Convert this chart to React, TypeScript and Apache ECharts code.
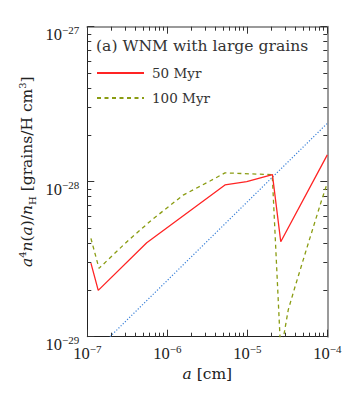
import React, { useEffect, useRef } from 'react';
import * as echarts from 'echarts';

// ---- data ----
// grain size a [cm]
const xMajor = [1e-7, 1e-6, 1e-5, 1e-4];
const xMinor = [
  2e-7, 3e-7, 4e-7, 5e-7, 6e-7, 7e-7, 8e-7, 9e-7,
  2e-6, 3e-6, 4e-6, 5e-6, 6e-6, 7e-6, 8e-6, 9e-6,
  2e-5, 3e-5, 4e-5, 5e-5, 6e-5, 7e-5, 8e-5, 9e-5,
];
// y values are given in units of 1e-29 grains/H cm^3 (ECharts' log axis loses precision below 1e-20)
const Y_UNIT_EXP = -29;
const yMajor = [1, 10, 100];
const yMinor = [2, 3, 4, 5, 6, 7, 8, 9, 20, 30, 40, 50, 60, 70, 80, 90];

const size50 = [1.11e-7, 1.37e-7, 5.53e-7, 5.26e-6, 9.83e-6, 2.06e-5, 2.62e-5, 1e-4];
const value50 = [2.98, 1.99, 4.04, 9.53, 10.0, 11.1, 4.1, 14.9];

const size100 = [1.11e-7, 1.4e-7, 3.25e-7, 6.38e-7, 1.58e-6, 3.42e-6, 5.26e-6, 2.05e-5, 2.62e-5, 3.25e-5, 3.95e-5, 5.79e-5, 8.51e-5, 1e-4];
const value100 = [4.31, 2.76, 4.18, 5.66, 8.2, 10.1, 11.4, 11.1, 0.785, 1.49, 2.1, 4.01, 7.62, 9.8];

const sizeRef = [1.92e-7, 1e-4];
const valueRef = [1.0, 23.8];

const seriesNames = ['50 Myr', '100 Myr'];
const panelTitle = '(a) WNM with large grains';

// ---- styles ----
const FONT = '"DejaVu Serif", serif';
const TICK_FONT = '"Liberation Serif", serif';
const TXT = '#222';
const RED = '#ff2424';
const GREEN = '#8a9c12';
const BLUE = '#3a80d8';

const zip = (xs: number[], ys: number[]) => xs.map((x, i) => [x, ys[i]]);

const labelRich = {
  b: { fontFamily: TICK_FONT, fontSize: 16.5, color: TXT, lineHeight: 20 },
  s: { fontFamily: TICK_FONT, fontSize: 11, color: TXT, lineHeight: 8, verticalAlign: 'top' },
};

const nameRich = {
  i: { fontFamily: FONT, fontSize: 15.5, fontStyle: 'italic', color: TXT, lineHeight: 20 },
  r: { fontFamily: FONT, fontSize: 15.5, color: TXT, lineHeight: 20 },
  sp: { fontFamily: FONT, fontSize: 10, color: TXT, lineHeight: 8, verticalAlign: 'top' },
  sb: { fontFamily: FONT, fontSize: 10, color: TXT, lineHeight: 8, verticalAlign: 'bottom' },
};

const expLabel = (e: number) => `{b|10}{s|${e < 0 ? '\u2212' : ''}${Math.abs(e)}}`;
const xLabel = (v: number) => expLabel(Math.round(Math.log10(v)));
const yLabel = (v: number) => expLabel(Math.round(Math.log10(v)) + Y_UNIT_EXP);

function tickAxis(kind: 'x' | 'y', position: string, ticks: number[], len: number, line: any) {
  const isX = kind === 'x';
  return {
    type: 'log',
    logBase: 10,
    min: isX ? xMajor[0] : yMajor[0],
    max: isX ? xMajor[xMajor.length - 1] : yMajor[yMajor.length - 1],
    position,
    axisLine: line ? { show: true, onZero: false, lineStyle: line } : { show: false, onZero: false },
    axisTick: { show: true, inside: true, length: len, customValues: ticks, lineStyle: { color: '#333', width: 1 } },
    axisLabel: { show: false },
    splitLine: { show: false },
    minorTick: { show: false },
    minorSplitLine: { show: false },
  };
}

export default function App() {
  const ref = useRef<HTMLDivElement>(null);
  useEffect(() => {
    if (!ref.current) return;
    const chart = echarts.init(ref.current, undefined, { renderer: 'svg' });
    const option: any = {
      animation: false,
      backgroundColor: '#fff',
      title: {
        text: panelTitle,
        left: 96,
        top: 38,
        padding: 0,
        textStyle: { fontFamily: FONT, fontSize: 15.6, fontWeight: 'normal', color: '#333' },
      },
      legend: {
        data: seriesNames,
        orient: 'vertical',
        left: 96,
        top: 66,
        padding: 0,
        itemWidth: 47,
        itemHeight: 14,
        itemGap: 11,
        itemStyle: { color: 'transparent', borderWidth: 0, opacity: 0 },
        textStyle: { fontFamily: FONT, fontSize: 13.5, color: '#333', padding: [0, 0, 0, 3], lineHeight: 14 },
      },
      grid: { left: 87.3, right: 26.7, top: 26.7, bottom: 56.3, containLabel: false, outerBoundsMode: 'none' },
      xAxis: [
        {
          ...tickAxis('x', 'bottom', xMajor, 7, { color: '#222', width: 1 }),
          axisLabel: { show: true, customValues: xMajor, formatter: xLabel, rich: labelRich, margin: 7 },
          name: '{i|a}{r| [cm]}',
          nameLocation: 'middle',
          nameGap: 27,
          nameMoveOverlap: false,
          nameTextStyle: { rich: nameRich },
        },
        tickAxis('x', 'bottom', xMinor, 4, null),
        tickAxis('x', 'top', xMajor, 7, { color: '#9a9a9a', width: 2 }),
        tickAxis('x', 'top', xMinor, 4, null),
      ],
      yAxis: [
        {
          ...tickAxis('y', 'left', yMajor, 7, { color: '#222', width: 1 }),
          axisLabel: { show: true, customValues: yMajor, formatter: yLabel, rich: labelRich, margin: 8, padding: [16, 0, 0, 0] },
          name: '{i|a}{sp|4}{i|n}{r|(}{i|a}{r|)/}{i|n}{sb|H}{r| [grains/H cm}{sp|3}{r|]}',
          nameLocation: 'middle',
          nameRotate: 90,
          nameGap: 50,
          nameMoveOverlap: false,
          nameTextStyle: { rich: nameRich, padding: [0, 0, 0, 20] },
        },
        tickAxis('y', 'left', yMinor, 4, null),
        tickAxis('y', 'right', yMajor, 7, { color: '#9a9a9a', width: 2 }),
        tickAxis('y', 'right', yMinor, 4, null),
      ],
      series: [
        {
          name: seriesNames[0],
          type: 'line',
          xAxisIndex: 0,
          yAxisIndex: 0,
          data: zip(size50, value50),
          symbol: 'none',
          clip: true,
          lineStyle: { color: RED, width: 1.3 },
          itemStyle: { color: RED },
          z: 4,
        },
        {
          name: seriesNames[1],
          type: 'line',
          xAxisIndex: 0,
          yAxisIndex: 0,
          data: zip(size100, value100),
          symbol: 'none',
          clip: true,
          lineStyle: { color: GREEN, width: 1.3, type: [4, 3.5] },
          itemStyle: { color: GREEN },
          z: 3,
        },
        {
          name: 'slope 1/2',
          type: 'line',
          xAxisIndex: 0,
          yAxisIndex: 0,
          data: zip(sizeRef, valueRef),
          symbol: 'none',
          clip: true,
          lineStyle: { color: BLUE, width: 1.2, type: [1.2, 1.8] },
          itemStyle: { color: BLUE },
          z: 2,
        },
      ],
    };
    chart.setOption(option);
    return () => chart.dispose();
  }, []);
  return <div ref={ref} style={{ position: 'fixed', left: 0, top: 0, width: 354, height: 393, background: '#fff' }} />;
}
